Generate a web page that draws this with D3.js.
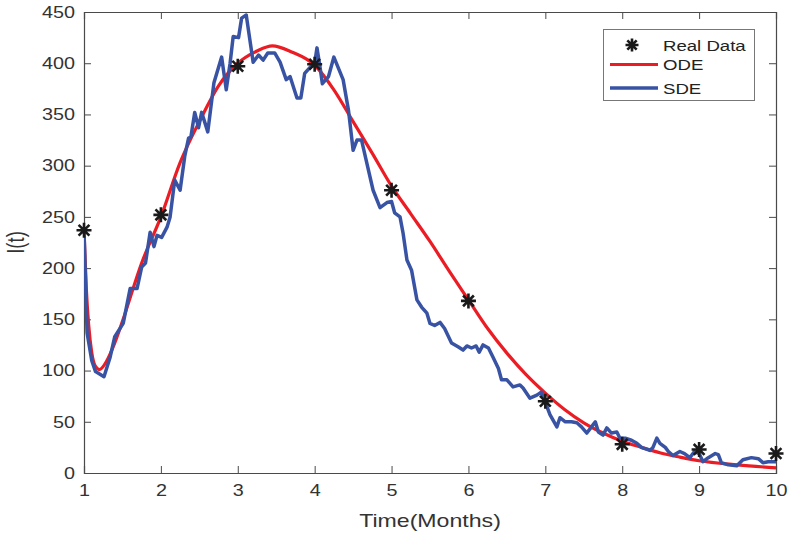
<!DOCTYPE html>
<html>
<head>
<meta charset="utf-8">
<script src="https://cdn.jsdelivr.net/npm/d3@7"></script>
<style>
  html, body { margin: 0; padding: 0; background: #fff; }
  svg { display: block; font-family: "Liberation Sans", Arial, Helvetica, sans-serif; }
</style>
</head>
<body>
<svg id="chart" width="792" height="534"></svg>
<script>
// ---- data ----
const realT = [1, 2, 3, 4, 5, 6, 7, 8, 9, 10];
const realI = [237, 252, 397, 399, 276, 168, 70, 28, 23, 19];

const odeT = [1.0, 1.03, 1.06, 1.1, 1.15, 1.2, 1.3, 1.4, 1.5, 1.75, 2.0, 2.25, 2.5, 2.75, 3.0, 3.25, 3.45, 3.7, 4.0, 4.25, 4.5, 4.75, 5.0, 5.25, 5.5, 5.75, 6.0, 6.25, 6.5, 6.75, 7.0, 7.25, 7.5, 7.75, 8.0, 8.25, 8.5, 8.75, 9.0, 9.5, 10.0];
const odeI = [237, 180, 145, 118, 104, 101, 110, 127, 148, 205, 250, 303, 343, 378, 400, 412, 417, 411, 398, 374, 343, 312, 280, 253, 226, 197, 169, 141, 117, 96, 78, 62, 49, 39, 31, 25, 19.5, 15.5, 12, 8, 5];

const sdeT = [1.0, 1.04, 1.10, 1.15, 1.26, 1.34, 1.40, 1.51, 1.60, 1.69, 1.75, 1.80, 1.86, 1.91, 1.95, 2.01, 2.08, 2.12, 2.18, 2.25, 2.31, 2.36, 2.39, 2.44, 2.49, 2.53, 2.61, 2.69, 2.79, 2.85, 2.90, 2.94, 3.01, 3.05, 3.11, 3.20, 3.27, 3.33, 3.39, 3.48, 3.55, 3.63, 3.68, 3.77, 3.82, 3.87, 3.94, 4.00, 4.03, 4.07, 4.10, 4.18, 4.25, 4.37, 4.44, 4.50, 4.55, 4.61, 4.68, 4.76, 4.85, 4.94, 5.00, 5.04, 5.11, 5.15, 5.20, 5.26, 5.33, 5.39, 5.46, 5.50, 5.56, 5.63, 5.69, 5.78, 5.87, 5.93, 5.98, 6.04, 6.10, 6.14, 6.19, 6.26, 6.32, 6.39, 6.43, 6.50, 6.58, 6.67, 6.71, 6.80, 6.89, 6.95, 7.00, 7.06, 7.15, 7.19, 7.26, 7.34, 7.41, 7.47, 7.54, 7.59, 7.65, 7.69, 7.75, 7.80, 7.86, 7.93, 7.97, 8.04, 8.12, 8.19, 8.25, 8.36, 8.40, 8.45, 8.49, 8.56, 8.60, 8.66, 8.75, 8.81, 8.88, 8.94, 9.00, 9.05, 9.12, 9.21, 9.25, 9.29, 9.38, 9.49, 9.57, 9.68, 9.77, 9.83, 9.90, 10.00];
const sdeI = [237, 137, 110, 99, 94, 113, 133, 146, 180, 180, 201, 205, 235, 221, 232, 230, 240, 250, 286, 276, 309, 327, 328, 352, 337, 352, 333, 381, 406, 374, 400, 426, 425, 444, 447, 401, 408, 403, 410, 410, 401, 384, 387, 366, 366, 390, 396, 400, 415, 396, 380, 387, 406, 384, 354, 315, 325, 325, 302, 276, 259, 264, 265, 254, 250, 234, 208, 198, 169, 162, 156, 146, 144, 147, 141, 127, 123, 120, 124, 122, 124, 118, 125, 122, 113, 102, 91, 91, 84, 86, 83, 73, 76, 79, 69, 57, 45, 54, 50, 50, 49, 45, 39, 44, 50, 40, 37, 44, 39, 40, 34, 34, 32, 29, 25, 22, 25, 34, 29, 25, 21, 17, 21, 19, 15, 21, 19, 11, 15, 19, 18, 10, 8, 7, 13, 15, 14, 10, 11, 11];

const xTicks = [1, 2, 3, 4, 5, 6, 7, 8, 9, 10];
const yTicks = [0, 50, 100, 150, 200, 250, 300, 350, 400, 450];
const legendLabels = ["Real Data", "ODE", "SDE"];
const xLabel = "Time(Months)";
const yLabel = "I(t)";

// ---- layout ----
const L = 84, R = 776, T = 12, B = 473;
const axisColor = "#4a4a4a";
const textColor = "#333";
const redColor = "#ec1c24";
const blueColor = "#3953a4";
const SX = 1.2; // horizontal stretch of glyphs seen in the reference

const svg = d3.select("#chart");
const x = d3.scaleLinear().domain([1, 10]).range([L, R]);
const y = d3.scaleLinear().domain([0, 450]).range([B, T]);

svg.append("defs").append("clipPath").attr("id", "clip")
  .append("rect").attr("x", L).attr("y", T - 2).attr("width", R - L + 2).attr("height", B - T + 2);

const tickLen = 7;
const gx = svg.append("g").attr("transform", `translate(0,${B})`)
  .call(d3.axisBottom(x).tickValues(xTicks).tickSize(-tickLen).tickPadding(11).tickFormat(d3.format("d")));
const gxTop = svg.append("g").attr("transform", `translate(0,${T})`)
  .call(d3.axisTop(x).tickValues(xTicks).tickSize(-tickLen).tickFormat(""));
const gy = svg.append("g").attr("transform", `translate(${L},0)`)
  .call(d3.axisLeft(y).tickValues(yTicks).tickSize(-tickLen).tickPadding(9).tickFormat(d3.format("d")));
const gyR = svg.append("g").attr("transform", `translate(${R},0)`)
  .call(d3.axisRight(y).tickValues(yTicks).tickSize(-tickLen).tickFormat(""));

[gx, gxTop, gy, gyR].forEach(g => {
  g.select(".domain").attr("stroke", axisColor).attr("stroke-width", 1.2);
  g.selectAll(".tick line").attr("stroke", axisColor).attr("stroke-width", 1);
  g.selectAll(".tick text").attr("fill", textColor).attr("font-size", 16.5)
    .attr("font-family", "'Liberation Sans', Arial, Helvetica, sans-serif");
});
gx.selectAll(".tick text").attr("transform", `scale(${SX},1)`);
gy.selectAll(".tick text").attr("x", 0).attr("transform", `translate(-9,0) scale(${SX},1)`);

svg.append("text").attr("transform", `translate(${(L + R) / 2},527) scale(1.25,1)`)
  .attr("text-anchor", "middle").attr("fill", textColor).attr("font-size", 18.5).text(xLabel);
svg.append("text").attr("transform", `translate(24,${(T + B) / 2}) scale(1.25,1) rotate(-90)`)
  .attr("text-anchor", "middle").attr("fill", textColor).attr("font-size", 18.5).text(yLabel);

const plot = svg.append("g").attr("clip-path", "url(#clip)");

const odeData = odeT.map((t, i) => [t, odeI[i]]);
plot.append("path").datum(odeData)
  .attr("fill", "none").attr("stroke", redColor).attr("stroke-width", 3.2)
  .attr("stroke-linejoin", "round")
  .attr("d", d3.line().x(d => x(d[0])).y(d => y(d[1])).curve(d3.curveMonotoneX));

const sdeData = sdeT.map((t, i) => [t, sdeI[i]]);
plot.append("path").datum(sdeData)
  .attr("fill", "none").attr("stroke", blueColor).attr("stroke-width", 3.5)
  .attr("stroke-linejoin", "round")
  .attr("d", d3.line().x(d => x(d[0])).y(d => y(d[1])));

function asterisk(sel, r) {
  const d = r * 0.72;
  sel.append("path")
    .attr("d", `M${-r},0L${r},0M0,${-r}L0,${r}M${-d},${-d}L${d},${d}M${-d},${d}L${d},${-d}`)
    .attr("stroke", "#1a1a1a").attr("stroke-width", 2.6).attr("fill", "none");
}
const realData = realT.map((t, i) => [t, realI[i]]);
svg.append("g").selectAll("g.star").data(realData).join("g")
  .attr("class", "star")
  .attr("transform", d => `translate(${x(d[0])},${y(d[1])})`)
  .each(function () { asterisk(d3.select(this), 7.5); });

const lg = svg.append("g");
lg.append("rect").attr("x", 603.5).attr("y", 29.5).attr("width", 151).attr("height", 71)
  .attr("fill", "#fff").attr("stroke", "#777").attr("stroke-width", 1);
const ly = [45, 64.5, 88];
const starG = lg.append("g").attr("transform", `translate(632,${ly[0]})`);
asterisk(starG, 6.5);
lg.append("line").attr("x1", 610).attr("x2", 658).attr("y1", ly[1]).attr("y2", ly[1])
  .attr("stroke", redColor).attr("stroke-width", 3.2);
lg.append("line").attr("x1", 610).attr("x2", 658).attr("y1", ly[2]).attr("y2", ly[2])
  .attr("stroke", blueColor).attr("stroke-width", 3.5);
legendLabels.forEach((s, i) => {
  lg.append("text").attr("transform", `translate(663,${ly[i]}) scale(${SX},1)`).attr("dy", "0.36em")
    .attr("fill", "#222").attr("font-size", 15.5).text(s);
});
</script>
</body>
</html>
